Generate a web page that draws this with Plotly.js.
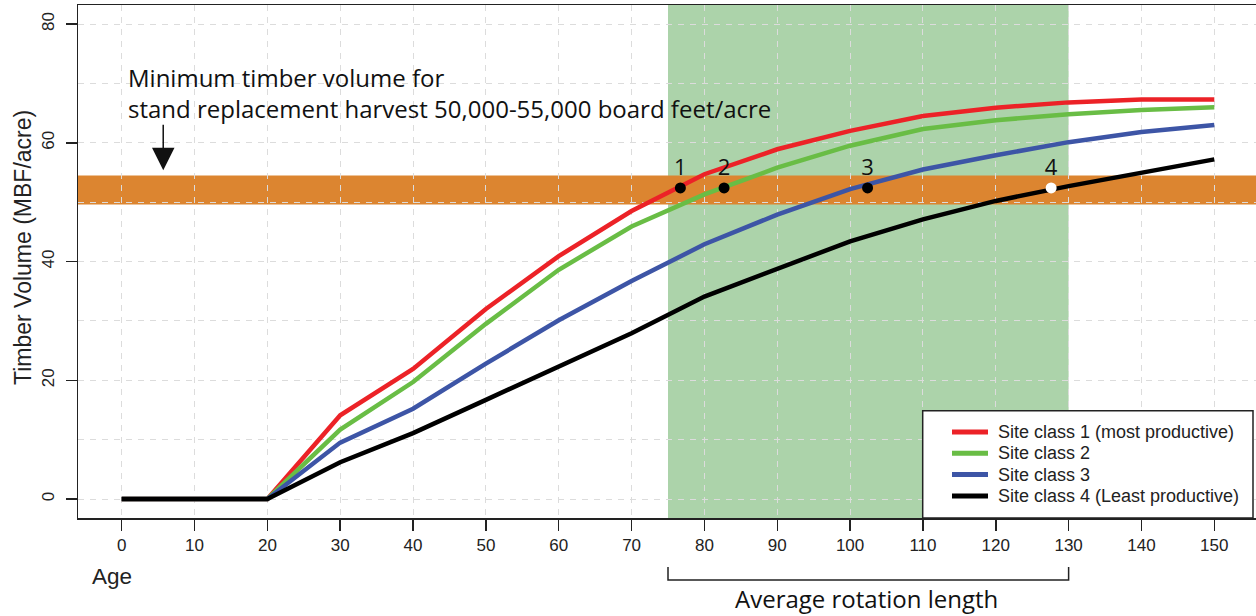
<!DOCTYPE html>
<html>
<head>
<meta charset="utf-8">
<script src="https://cdn.plot.ly/plotly-3.0.1.min.js"></script>
<style>
html,body{margin:0;padding:0;overflow:hidden;background:#fff;}
#chart{width:1258px;height:616px;}
</style>
</head>
<body>
<div id="chart"></div>
<script>
// ---- data ----
const ages = [0,10,20,30,40,50,60,70,80,90,100,110,120,130,140,150];
const site1 = [0,0,0,14.1,21.9,32.0,40.9,48.5,54.7,58.9,62.0,64.5,65.9,66.8,67.3,67.3];
const site2 = [0,0,0,11.7,19.7,29.5,38.6,45.9,51.3,55.8,59.5,62.3,63.8,64.8,65.5,66.0];
const site3 = [0,0,0,9.5,15.2,22.8,30.1,36.7,42.9,47.9,52.2,55.5,57.9,60.1,61.8,63.0];
const site4 = [0,0,0,6.2,11.1,16.7,22.4,27.9,34.1,38.7,43.4,47.1,50.2,52.7,55.0,57.2];
const seriesNames = ['Site class 1 (most productive)','Site class 2','Site class 3','Site class 4 (Least productive)'];
const harvestAges = [76.7, 82.7, 102.4, 127.6];
const harvestVol = [52.4, 52.4, 52.4, 52.4];
const harvestLabels = ['1','2','3','4'];
const minVolumeBand = [49.6, 54.5];
const rotationRange = [75, 130];
const xTicks = [0,10,20,30,40,50,60,70,80,90,100,110,120,130,140,150];
const yTicks = [0,20,40,60,80];

// ---- styles ----
const colors = ['#ec2227','#69bd45','#3d55a6','#000000'];
const gridStyle = {gridcolor:'#dcdcdc', gridwidth:1, griddash:'6px,6px'};
const arial = 'Liberation Sans, Arial, sans-serif';
const humanist = 'Open Sans, Noto Sans, sans-serif';

const seriesData = [site1, site2, site3, site4];
const traces = seriesData.map((ys,i)=>({
  x: ages, y: ys, type:'scatter', mode:'lines', name: seriesNames[i],
  line:{color:colors[i], width:4.5}, hoverinfo:'skip', showlegend:false
}));
traces.push({
  x: harvestAges, y: harvestVol, type:'scatter', mode:'markers+text',
  text: harvestLabels, textposition:'top center',
  textfont:{family:humanist, size:22, color:'#111'},
  marker:{size:11, color:['#000','#000','#000','#fff'], line:{width:0}},
  showlegend:false, hoverinfo:'skip', cliponaxis:false
});

// paper helpers (plot area 78..1258 x, 5..518 y)
const L=78, T=5, W=1180, H=513;
const py = p => (T+H-p)/H;
const px = p => (p-L)/W;

// manual legend (box, line samples, labels)
const legendRows = [432, 453.3, 474.6, 496];
const legendShapes = [
  {type:'rect', xref:'paper', yref:'paper', x0:px(922.7), x1:px(1253), y0:0, y1:py(410.7),
   fillcolor:'#fff', line:{color:'#222', width:1.5}, layer:'above'}
];
const legendAnn = [];
seriesNames.forEach((n,i)=>{
  legendShapes.push({type:'line', xref:'paper', yref:'paper', x0:px(952), x1:px(988),
    y0:py(legendRows[i]), y1:py(legendRows[i]), line:{color:colors[i], width:5}, layer:'above'});
  legendAnn.push({xref:'paper', yref:'paper', x:px(996), y:py(legendRows[i]), xanchor:'left', yanchor:'middle',
    text:n, showarrow:false, font:{family:arial, size:18, color:'#222'}});
});

const layout = {
  width:1258, height:616,
  margin:{l:L, r:0, t:T, b:616-T-H, pad:0},
  paper_bgcolor:'#fff', plot_bgcolor:'#fff',
  showlegend:false,
  font:{family:arial, color:'#222'},
  xaxis:{
    range:[-6,156], tickvals:xTicks, ticktext:xTicks.map(String),
    ticks:'outside', ticklen:11, tickwidth:1.5, tickcolor:'#222',
    showline:true, linecolor:'#222', linewidth:1.5, mirror:true,
    showgrid:true, ...gridStyle, zeroline:false,
    tickfont:{family:arial, size:17, color:'#222'}
  },
  yaxis:{
    range:[-3.2,83.2], tickvals:yTicks, ticktext:yTicks.map(String),
    ticks:'outside', ticklen:11, tickwidth:1.5, tickcolor:'#222', tickangle:-90,
    ticklabelstandoff:5,
    showline:true, linecolor:'#222', linewidth:1.5, mirror:true,
    showgrid:true, ...gridStyle, zeroline:false,
    minor:{dtick:10, tick0:0, showgrid:true, ...gridStyle, ticks:''},
    tickfont:{family:arial, size:17, color:'#222'}
  },
  shapes:[
    {type:'rect', xref:'x', yref:'paper', x0:rotationRange[0], x1:rotationRange[1], y0:0, y1:1,
     fillcolor:'#acd3aa', line:{width:0}, layer:'below'},
    {type:'rect', xref:'paper', yref:'y', x0:0, x1:1, y0:minVolumeBand[0], y1:minVolumeBand[1],
     fillcolor:'#dc8530', line:{width:0}, layer:'below'},
    ...legendShapes,
    {type:'path', xref:'x', yref:'paper',
     path:`M ${rotationRange[0]},${py(567)} L ${rotationRange[0]},${py(580)} L ${rotationRange[1]},${py(580)} L ${rotationRange[1]},${py(567)}`,
     line:{color:'#222', width:1.5}}
  ],
  annotations:[
    {xref:'x', yref:'y', x:0.55, y:68.4, xanchor:'left', yanchor:'middle', align:'left',
     text:'Minimum timber volume for<br>stand replacement harvest 50,000-55,000 board feet/acre',
     showarrow:false, font:{family:humanist, size:24, color:'#111'}},
    {xref:'x', yref:'y', x:5.7, y:(499.3-171)/5.93, text:'', showarrow:true,
     ax:0, ay:-47, arrowhead:2, arrowsize:3, arrowwidth:1.5, arrowcolor:'#111'},
    {xref:'paper', yref:'paper', x:px(90), y:py(576), xanchor:'left', yanchor:'middle',
     text:'Age', showarrow:false, font:{family:arial, size:22.5, color:'#222'}},
    {xref:'paper', yref:'paper', x:px(23), y:py(248), xanchor:'center', yanchor:'middle',
     text:'Timber Volume (MBF/acre)', textangle:-90, showarrow:false,
     font:{family:arial, size:23, color:'#222'}},
    {xref:'x', yref:'paper', x:(rotationRange[0]+rotationRange[1])/2 - 0.3, y:py(598), xanchor:'center', yanchor:'middle',
     text:'Average rotation length', showarrow:false, font:{family:humanist, size:24, color:'#111'}},
    ...legendAnn
  ]
};

Plotly.newPlot('chart', traces, layout, {displayModeBar:false, staticPlot:true});
</script>
</body>
</html>
